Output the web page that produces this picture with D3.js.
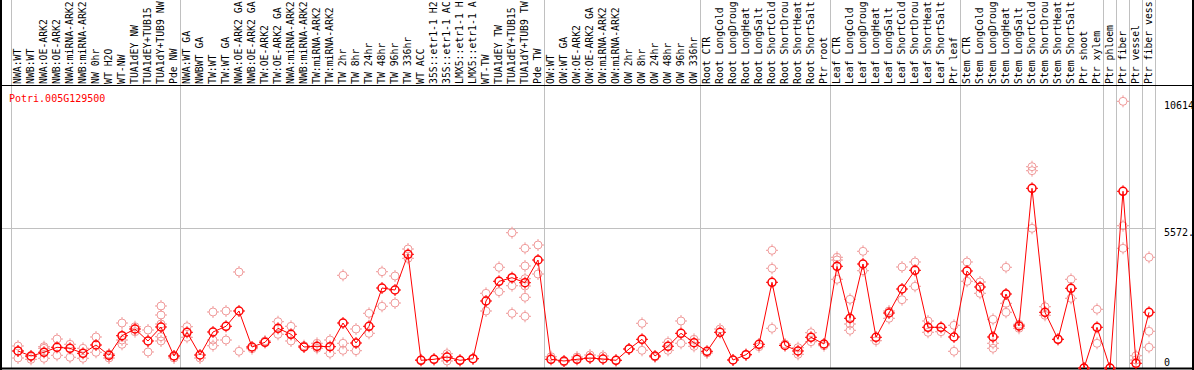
<!DOCTYPE html>
<html>
<head>
<meta charset="utf-8">
<script src="https://cdn.jsdelivr.net/npm/d3@7"></script>
<style>
body { margin: 0; background: #fff; }
svg { display: block; }
text { font-family: "DejaVu Sans Mono", monospace; font-size: 10px; }
text.lbl { font-size: 9.8px; }
</style>
</head>
<body>
<script>
var geneId = "Potri.005G129500";

// sample names as far as they show in the header strip
var sampleLabels = [
    "NWA:WT", "NWB:WT", "NWA:OE-ARK2", "NWB:OE-ARK2", "NWA:miRNA-ARK2", "NWB:miRNA-ARK2",
    "NW 0hr", "WT H2O", "WT-NW", "TUA1dEY NW", "TUA1dEY+TUB15", "TUA1dY+TUB9 NW", "Pde NW",
    "NWA:WT GA", "NWBWT GA", "TW:WT", "TW:WT GA", "NWA:OE-ARK2 GA", "NWB:OE-ARK2 GA",
    "TW:OE-ARK2", "TW:OE-ARK2 GA", "NWA:miRNA-ARK2", "NWB:miRNA-ARK2", "TW:miRNA-ARK2",
    "TW:miRNA-ARK2", "TW 2hr", "TW 8hr", "TW 24hr", "TW 48hr", "TW 96hr", "TW 336hr",
    "WT ACC", "35S::etr1-1 H2", "35S::etr1-1 AC", "LMX5::etr1-1 H", "LMX5::etr1-1 A",
    "WT-TW", "TUA1dEY TW", "TUA1dEY+TUB15", "TUA1dY+TUB9 TW", "Pde TW",
    "OW:WT", "OW:WT GA", "OW:OE-ARK2", "OW:OE-ARK2 GA", "OW:miRNA-ARK2", "OW:miRNA-ARK2",
    "OW 2hr", "OW 8hr", "OW 24hr", "OW 48hr", "OW 96hr", "OW 336hr",
    "Root CTR", "Root LongCold", "Root LongDroug", "Root LongHeat", "Root LongSalt",
    "Root ShortCold", "Root ShortDrou", "Root ShortHeat", "Root ShortSalt", "Ptr root",
    "Leaf CTR", "Leaf LongCold", "Leaf LongDroug", "Leaf LongHeat", "Leaf LongSalt",
    "Leaf ShortCold", "Leaf ShortDrou", "Leaf ShortHeat", "Leaf ShortSalt", "Ptr leaf",
    "Stem CTR", "Stem LongCold", "Stem LongDroug", "Stem LongHeat", "Stem LongSalt",
    "Stem ShortCold", "Stem ShortDrou", "Stem ShortHeat", "Stem ShortSalt",
    "Ptr shoot", "Ptr xylem", "Ptr phloem", "Ptr fiber", "Ptr vessel", "Ptr fiber vess"
];

// mean expression per sample
var meanValues = [
    677, 478, 625, 824, 784, 585, 915, 505, 1286, 1552, 1075, 1632, 478,
    1421, 517, 1433, 1660, 2269, 836, 1023, 1580, 1341, 836, 864, 848, 1791, 995, 1660,
    3184, 3104, 4525, 306, 346, 438, 306, 370, 2667, 3451, 3594, 3395, 4298,
    346, 279, 346, 398, 358, 306, 756, 1142, 478, 864, 1381, 1007,
    665, 1421, 318, 529, 943, 3411, 896, 677, 1222, 955,
    4048, 1978, 4139, 1222, 2189, 3144, 3888, 1620, 1620, 1234,
    3861, 3224, 1234, 2945, 1672, 7152, 2217, 1142, 3172, 0, 1620,
    0, 7033, 187, 2217
];

// replicate values per sample
var replicateValues = [
    [876, 677, 398], [450, 346], [848, 784, 386], [1154, 505], [943, 426], [784, 386],
    [1234, 625], [398, 557], [1791, 943, 1114], [1644, 1445], [1512, 637],
    [2468, 2109, 1751, 1246, 1075], [478, 398],
    [1644, 1222], [398], [2229, 1114, 888], [2269, 1114], [3821, 665], [768], [1075],
    [1843, 1341], [1660, 1075], [888], [983, 784], [1114, 585], [3689, 983, 704],
    [1552, 689], [2177, 1381], [3833, 2456], [3662, 2587], [4736, 4366], [330], [346],
    [569, 279], [306], [370], [2973, 2269], [4008, 3037], [3276, 2177, 5385],
    [4764, 4060, 3554, 3264, 2814, 2058], [4895, 3741],
    [450], [239], [438], [517], [478], [306], [756], [1779, 704], [438], [1023, 704],
    [1871, 983], [1142, 864],
    [597], [1552], [318], [529], [848], [4684, 3968, 1580], [955], [808, 545],
    [1405, 1047], [888],
    [4406, 4298, 3530], [2734, 1751, 1500], [4645, 3873], [1087], [2269, 1978],
    [4020, 2718], [4219, 3252], [1871, 1421], [1445], [1699, 665],
    [4219, 3451], [3423, 2973], [1938, 983, 784], [4008, 2575, 2217], [1739, 1580],
    [8012, 7853, 5560], [2440, 2097], [1142], [3530, 2774], [0], [2336, 983],
    [0], [10614, 5664, 4764], [490, 318], [4406, 1461, 824]
];

// column index where each grey separator sits
var groupBreaks = [0, 13, 41, 53, 63, 73, 84, 85, 86, 87, 88];

var yTickValues = [10614, 5572, 0];
var yTickLabels = ["10614", "5572.", "0"];
var yMax = 11144;

var width = 1194, height = 370;
var headerBottom = 85.5;

var svg = d3.select('body')
    .append('svg')
    .attr('width', width)
    .attr('height', height);

var x = d3.scaleBand()
    .domain(d3.range(sampleLabels.length))
    .range([11.5, 1155.5]);

var y = d3.scaleLinear()
    .domain([0, yMax])
    .range([368, 88]);

var cx = i => x(i) + x.bandwidth() / 2;

// grey separators and mid grid line
svg.selectAll('line.sep')
    .data(groupBreaks)
    .enter()
    .append('line')
    .attr('x1', d => x(0) + d * x.bandwidth())
    .attr('x2', d => x(0) + d * x.bandwidth())
    .attr('y1', 0)
    .attr('y2', 368)
    .attr('stroke', '#c0c0c0');

svg.append('line')
    .attr('x1', 0)
    .attr('x2', 1155.5)
    .attr('y1', Math.round(y(yTickValues[1])) + 0.5)
    .attr('y2', Math.round(y(yTickValues[1])) + 0.5)
    .attr('stroke', '#c0c0c0');

// header labels
svg.selectAll('text.lbl')
    .data(sampleLabels)
    .enter()
    .append('text')
    .attr('class', 'lbl')
    .attr('transform', (d, i) => `translate(${cx(i)},84) rotate(-90)`)
    .attr('dy', '0.35em')
    .attr('fill', 'black')
    .text(d => d);

// frame
svg.append('line').attr('x1', 0).attr('x2', width).attr('y1', headerBottom).attr('y2', headerBottom).attr('stroke', 'black');
svg.append('line').attr('x1', 0).attr('x2', width).attr('y1', 368.5).attr('y2', 368.5).attr('stroke', 'black').attr('stroke-width', 2);
svg.append('line').attr('x1', 1).attr('x2', 1).attr('y1', 0).attr('y2', height).attr('stroke', 'black').attr('stroke-width', 2);
svg.append('line').attr('x1', 1193).attr('x2', 1193).attr('y1', 0).attr('y2', height).attr('stroke', 'black').attr('stroke-width', 2);

// y labels on the right
svg.selectAll('text.ytk')
    .data(yTickValues)
    .enter()
    .append('text')
    .attr('x', 1164)
    .attr('y', (d, i) => i == 2 ? 366 : y(d) + 8)
    .attr('fill', 'black')
    .text((d, i) => yTickLabels[i]);

svg.append('text')
    .attr('x', 9)
    .attr('y', 102)
    .attr('fill', 'red')
    .text(geneId);

function marker(sel, color, sw) {
    sel.append('circle')
        .attr('r', 4)
        .attr('fill', 'none')
        .attr('stroke', color)
        .attr('stroke-width', sw);
    sel.append('path')
        .attr('d', 'M0,-6V-4M0,4V6M-6,0H-4M4,0H6')
        .attr('stroke', color)
        .attr('stroke-width', 1);
}

// replicates
var repPoints = [];
replicateValues.forEach((arr, i) => arr.forEach(v => repPoints.push({ i: i, v: v })));

svg.selectAll('g.rep')
    .data(repPoints)
    .enter()
    .append('g')
    .attr('transform', d => `translate(${cx(d.i)},${y(d.v)})`)
    .call(marker, '#f09a9a', 1);

// mean line
var line = d3.line()
    .x((d, i) => cx(i))
    .y(d => y(d));

svg.append('path')
    .datum(meanValues)
    .attr('d', line)
    .attr('fill', 'none')
    .attr('stroke', 'red')
    .attr('stroke-width', 1);

svg.selectAll('g.mean')
    .data(meanValues)
    .enter()
    .append('g')
    .attr('transform', (d, i) => `translate(${cx(i)},${y(d)})`)
    .call(marker, 'red', 1.5);
</script>
</body>
</html>
